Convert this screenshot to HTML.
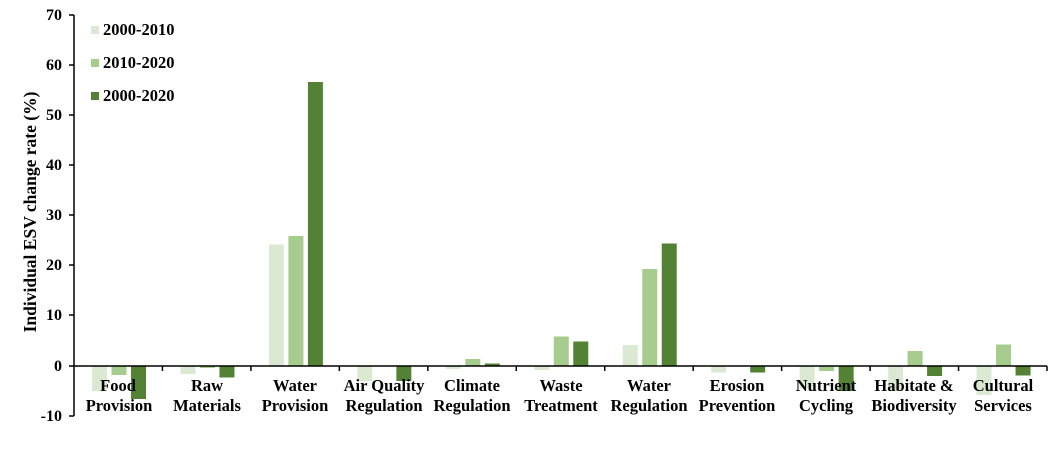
<!DOCTYPE html>
<html><head><meta charset="utf-8"><style>
html,body{margin:0;padding:0;background:#fff;}
svg text{font-family:"Liberation Serif",serif;font-weight:bold;fill:#000;}
</style></head><body>
<svg id="c" width="1060" height="465" viewBox="0 0 1060 465" xmlns="http://www.w3.org/2000/svg">
<g id="bars"></g>
<g stroke="#000" stroke-width="1.5">
<line x1="74" y1="15" x2="74" y2="416"/>
<line x1="74" y1="366" x2="1047" y2="366"/>
<line x1="69" y1="15" x2="74" y2="15"/><line x1="69" y1="65" x2="74" y2="65"/>
<line x1="69" y1="115" x2="74" y2="115"/><line x1="69" y1="165" x2="74" y2="165"/>
<line x1="69" y1="215" x2="74" y2="215"/><line x1="69" y1="265" x2="74" y2="265"/>
<line x1="69" y1="315" x2="74" y2="315"/><line x1="69" y1="366" x2="74" y2="366"/>
<line x1="69" y1="416" x2="74" y2="416"/>
</g>
<g id="xt" stroke="#000" stroke-width="1.5"></g>
<g font-size="16" text-anchor="end">
<text x="62" y="20">70</text><text x="62" y="70">60</text><text x="62" y="120">50</text>
<text x="62" y="170">40</text><text x="62" y="220">30</text><text x="62" y="270">20</text>
<text x="62" y="320">10</text><text x="62" y="371">0</text><text x="62" y="421">-10</text>
</g>
<text font-size="17.5" text-anchor="middle" transform="translate(36,212) rotate(-90)">Individual ESV change rate (%)</text>
<rect x="91" y="26" width="8" height="8" fill="#dbe9d3"/><text x="103" y="35" font-size="16.5">2000-2010</text>
<rect x="91" y="59" width="8" height="8" fill="#a6cc8e"/><text x="103" y="68" font-size="16.5">2010-2020</text>
<rect x="91" y="92" width="8" height="8" fill="#548235"/><text x="103" y="101" font-size="16.5">2000-2020</text>
<g font-size="16.5" text-anchor="middle">
<text x="118" y="391">Food</text><text x="119" y="411">Provision</text>
<text x="207" y="391">Raw</text><text x="207" y="411">Materials</text>
<text x="295" y="391">Water</text><text x="295" y="411">Provision</text>
<text x="384" y="391">Air Quality</text><text x="384" y="411">Regulation</text>
<text x="472" y="391">Climate</text><text x="472" y="411">Regulation</text>
<text x="561" y="391">Waste</text><text x="561" y="411">Treatment</text>
<text x="649" y="391">Water</text><text x="649" y="411">Regulation</text>
<text x="737" y="391">Erosion</text><text x="737" y="411">Prevention</text>
<text x="826" y="391">Nutrient</text><text x="826" y="411">Cycling</text>
<text x="914" y="391">Habitate &amp;</text><text x="914" y="411">Biodiversity</text>
<text x="1003" y="391">Cultural</text><text x="1003" y="411">Services</text>
</g>
</svg>
<script>
var d=[[-5,-1.8,-6.6],[-1.6,-0.4,-2.3],[24.3,26,56.8],[-3,0,-3],[-0.6,1.4,0.5],[-0.8,5.9,4.9],[4.2,19.4,24.5],[-1.3,0,-1.3],[-4.5,-1,-5],[-5,3,-2],[-5.8,4.3,-1.9]];
var cols=["#dbe9d3","#a6cc8e","#548235"],offs=[18,37.5,57],s=(1047-74)/11,ns="http://www.w3.org/2000/svg";
var g=document.getElementById("bars"),xt=document.getElementById("xt");
for(var i=0;i<11;i++){var x0=74+i*s;
 for(var j=0;j<3;j++){var v=d[i][j];if(!v)continue;var r=document.createElementNS(ns,"rect");
  var y=366-v*5;r.setAttribute("x",x0+offs[j]);r.setAttribute("width",15);
  r.setAttribute("y",Math.min(y,366));r.setAttribute("height",Math.abs(v*5));r.setAttribute("fill",cols[j]);g.appendChild(r);}
 var l=document.createElementNS(ns,"line");var xx=74+(i+1)*s;l.setAttribute("x1",xx);l.setAttribute("x2",xx);l.setAttribute("y1",366);l.setAttribute("y2",371);xt.appendChild(l);}
</script>
</body></html>
